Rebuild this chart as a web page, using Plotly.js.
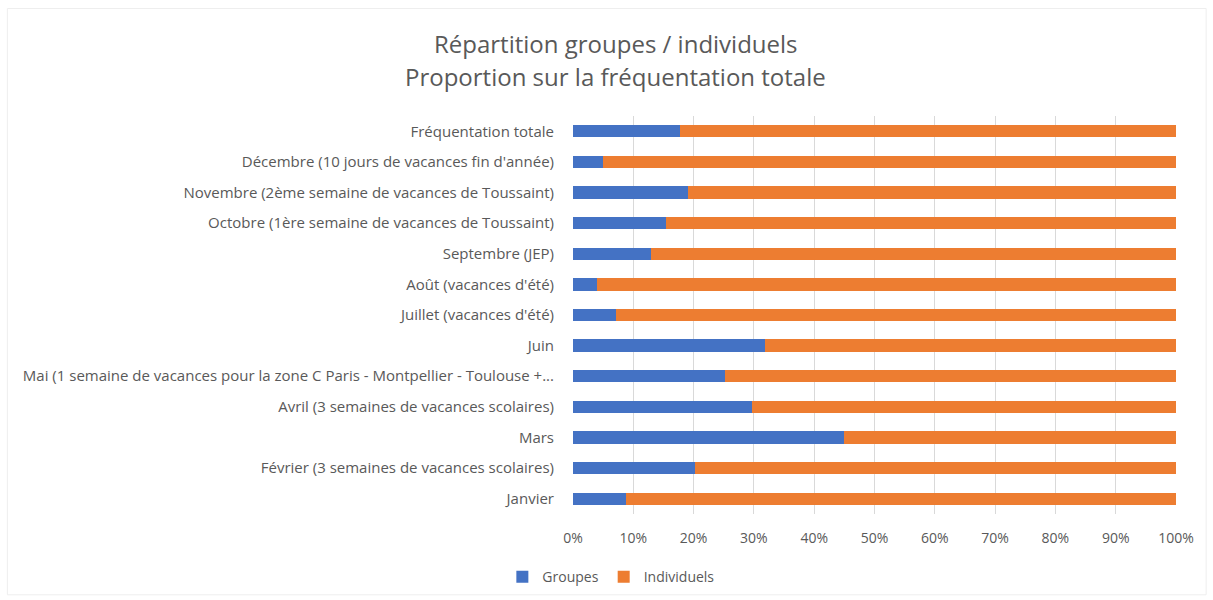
<!DOCTYPE html>
<html>
<head>
<meta charset="utf-8">
<script src="https://cdn.plot.ly/plotly-3.0.1.min.js"></script>
<style>
  html, body { margin: 0; padding: 0; background: #ffffff; }
  #chart { width: 1213px; height: 600px; }
</style>
</head>
<body>
<div id="chart"></div>
<script>
const categories = [
  "Janvier",
  "Février (3 semaines de vacances scolaires)",
  "Mars",
  "Avril (3 semaines de vacances scolaires)",
  "Mai (1 semaine de vacances pour la zone C Paris - Montpellier - Toulouse +...",
  "Juin",
  "Juillet (vacances d'été)",
  "Août (vacances d'été)",
  "Septembre (JEP)",
  "Octobre (1ère semaine de vacances de Toussaint)",
  "Novembre (2ème semaine de vacances de Toussaint)",
  "Décembre (10 jours de vacances fin d'année)",
  "Fréquentation totale"
];
const groupes =     [8.8, 20.3, 45.0, 29.7, 25.2, 31.8, 7.2, 3.9, 13.0, 15.4, 19.0, 4.9, 17.7];
const individuels = [91.2, 79.7, 55.0, 70.3, 74.8, 68.2, 92.8, 96.1, 87.0, 84.6, 81.0, 95.1, 82.3];
const xTickVals = [0, 10, 20, 30, 40, 50, 60, 70, 80, 90, 100];
const xTickText = ["0%", "10%", "20%", "30%", "40%", "50%", "60%", "70%", "80%", "90%", "100%"];
const titleLines = ["Répartition groupes / individuels", "Proportion sur la fréquentation totale"];

const fontFam = "Open Sans, Liberation Sans, sans-serif";
const txtCol = "#595959";

const traces = [
  { type: "bar", orientation: "h", name: "Groupes", y: categories, x: groupes,
    marker: { color: "#4472C4" }, width: 0.4 },
  { type: "bar", orientation: "h", name: "Individuels", y: categories, x: individuels,
    marker: { color: "#ED7D31" }, width: 0.4 }
];

const layout = {
  width: 1213, height: 600,
  barmode: "stack",
  paper_bgcolor: "#ffffff", plot_bgcolor: "#ffffff",
  margin: { l: 573, r: 37, t: 116, b: 86 },
  xaxis: {
    range: [0, 100], tickvals: xTickVals, ticktext: xTickText,
    showgrid: true, gridcolor: "#d9d9d9", gridwidth: 1,
    zeroline: false, showline: false, ticks: "",
    ticklabelstandoff: 14,
    tickfont: { family: fontFam, size: 14, color: txtCol }
  },
  yaxis: {
    type: "category", categoryorder: "array", categoryarray: categories,
    showgrid: false, zeroline: false, showline: false, ticks: "",
    ticklabelstandoff: 18,
    tickfont: { family: fontFam, size: 15, color: txtCol }
  },
  showlegend: true,
  legend: {
    orientation: "h", xref: "container", x: 0.504, xanchor: "center",
    yref: "container", y: 0.038, yanchor: "middle",
    font: { family: fontFam, size: 14, color: txtCol },
    traceorder: "normal", itemwidth: 30
  },
  annotations: [
    { text: titleLines[0], xref: "paper", yref: "paper", x: 0.0705, y: 1.181,
      xanchor: "center", yanchor: "middle", showarrow: false,
      font: { family: fontFam, size: 24, color: txtCol } },
    { text: titleLines[1], xref: "paper", yref: "paper", x: 0.0705, y: 1.1005,
      xanchor: "center", yanchor: "middle", showarrow: false,
      font: { family: fontFam, size: 24, color: txtCol } }
  ],
  shapes: [
    { type: "rect", xref: "paper", yref: "paper",
      x0: -0.938, x1: 1.05, y0: -0.203, y1: 1.270,
      line: { color: "#eeeeee", width: 1 }, layer: "below" }
  ]
};

Plotly.newPlot("chart", traces, layout, { displayModeBar: false, staticPlot: true });
</script>
</body>
</html>
